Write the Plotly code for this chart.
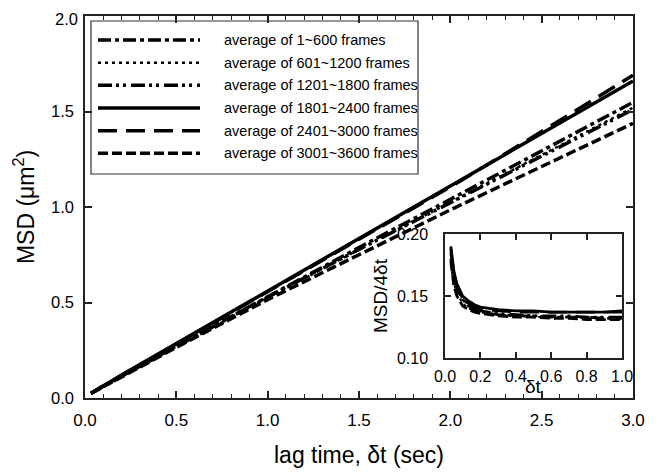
import plotly.graph_objects as go

# ---------------- data ----------------
series_names = [
    "average of 1~600 frames",
    "average of 601~1200 frames",
    "average of 1201~1800 frames",
    "average of 1801~2400 frames",
    "average of 2401~3000 frames",
    "average of 3001~3600 frames",
]

lag_time = [0.033, 0.1, 0.2, 0.5, 1.0, 1.5, 2.0, 2.5, 3.0]
msd_1_600 = [0.025, 0.062, 0.113, 0.272, 0.532, 0.788, 1.040, 1.292, 1.548]
msd_601_1200 = [0.024, 0.060, 0.111, 0.268, 0.525, 0.777, 1.024, 1.272, 1.520]
msd_1201_1800 = [0.025, 0.063, 0.114, 0.270, 0.528, 0.778, 1.022, 1.266, 1.510]
msd_1801_2400 = [0.025, 0.065, 0.120, 0.285, 0.560, 0.835, 1.110, 1.385, 1.660]
msd_2401_3000 = [0.025, 0.064, 0.118, 0.283, 0.557, 0.830, 1.105, 1.395, 1.690]
msd_3001_3600 = [0.024, 0.060, 0.110, 0.265, 0.515, 0.750, 0.985, 1.212, 1.438]

inset_dt = [0.033, 0.05, 0.067, 0.1, 0.133, 0.167, 0.2, 0.3, 0.4, 0.5, 0.6, 0.7, 0.8, 0.9, 1.0]
ratio_1_600 = [0.180, 0.165, 0.156, 0.147, 0.142, 0.139, 0.137, 0.135, 0.134, 0.134, 0.133, 0.133, 0.133, 0.132, 0.132]
ratio_601_1200 = [0.175, 0.160, 0.152, 0.144, 0.140, 0.138, 0.137, 0.135, 0.134, 0.133, 0.133, 0.133, 0.132, 0.132, 0.132]
ratio_1201_1800 = [0.185, 0.168, 0.158, 0.148, 0.143, 0.140, 0.138, 0.136, 0.135, 0.134, 0.134, 0.134, 0.133, 0.133, 0.133]
ratio_1801_2400 = [0.190, 0.170, 0.160, 0.150, 0.146, 0.143, 0.141, 0.139, 0.138, 0.138, 0.137, 0.137, 0.137, 0.137, 0.137]
ratio_2401_3000 = [0.188, 0.168, 0.158, 0.148, 0.144, 0.141, 0.139, 0.138, 0.137, 0.137, 0.137, 0.137, 0.137, 0.137, 0.138]
ratio_3001_3600 = [0.178, 0.158, 0.150, 0.142, 0.139, 0.137, 0.136, 0.134, 0.133, 0.133, 0.132, 0.132, 0.131, 0.131, 0.131]

main_series = [msd_1_600, msd_601_1200, msd_1201_1800, msd_1801_2400, msd_2401_3000, msd_3001_3600]
inset_series = [ratio_1_600, ratio_601_1200, ratio_1201_1800, ratio_1801_2400, ratio_2401_3000, ratio_3001_3600]

x_ticks = [0.0, 0.5, 1.0, 1.5, 2.0, 2.5, 3.0]
y_ticks = [0.0, 0.5, 1.0, 1.5, 2.0]
inset_x_ticks = [0.0, 0.2, 0.4, 0.6, 0.8, 1.0]
inset_y_ticks = [0.10, 0.15, 0.20]

# ---------------- styles ----------------
dashes = ["13px,4px,4px,4px", "3px,4px", "14px,4px,3px,4px,3px,5px", "solid", "19px,9px", "10px,4px"]
widths = [3.5, 2.5, 3.5, 3.5, 3.5, 3.5]
FONT = "Arial, Liberation Sans, sans-serif"
INK = "#000000"

fig = go.Figure()
for name, ys, d, w in zip(series_names, main_series, dashes, widths):
    fig.add_trace(go.Scatter(x=lag_time, y=ys, mode="lines", name=name, showlegend=False,
                             line=dict(color=INK, width=w, dash=d), xaxis="x", yaxis="y"))
for name, ys, d, w in zip(series_names, inset_series, dashes, widths):
    fig.add_trace(go.Scatter(x=inset_dt, y=ys, mode="lines", name=name, showlegend=False,
                             line=dict(color=INK, width=w * 0.8, dash=d), xaxis="x2", yaxis="y2"))

# ---------------- geometry ----------------
# page has an 8px body margin, so figure pixel = screen pixel - 8
OFF = 8
W, H = 659 - OFF, 475 - OFF
SX0, SX1, SY0, SY1 = 85, 633, 16, 398   # plot area in screen pixels
L, R, T, B = SX0 - OFF, W - (SX1 - OFF), SY0 - OFF, H - (SY1 - OFF)
pw, ph = SX1 - SX0, SY1 - SY0

def px(x):
    return (x - SX0) / pw

def py(y):
    return (SY1 - y) / ph

# manual legend
shapes = [dict(type="rect", xref="paper", yref="paper", x0=px(91), x1=px(418), y0=py(174), y1=py(21),
               line=dict(color="#333333", width=1.2), fillcolor="white", layer="below")]
annotations = []
row_y = [40, 62.7, 85.3, 108, 130.7, 153.3]
for name, d, w, ry in zip(series_names, dashes, widths, row_y):
    shapes.append(dict(type="line", xref="paper", yref="paper", x0=px(98), x1=px(200), y0=py(ry), y1=py(ry),
                       line=dict(color=INK, width=w, dash=d)))
    annotations.append(dict(xref="paper", yref="paper", x=px(222), y=py(ry), text=name, showarrow=False,
                            xanchor="left", yanchor="middle", font=dict(family=FONT, size=14.5, color=INK)))

# top y tick label drawn as annotation so it is nudged inside the page edge
YTICK_FONT = dict(family=FONT, size=16.5, color=INK)
annotations.append(dict(xref="paper", yref="y", x=0, y=y_ticks[-1], text=f"{y_ticks[-1]:.1f}",
                        showarrow=False, xanchor="right", yanchor="middle", xshift=-5, yshift=-3,
                        font=YTICK_FONT))

# inset
ix0, ix1, iy0, iy1 = 445, 622, 358, 234
annotations.append(dict(xref="paper", yref="paper", x=px((ix0 + ix1) / 2), y=py(386), text="δt",
                        showarrow=False, xanchor="center", yanchor="middle",
                        font=dict(family=FONT, size=19, color=INK)))

axis_common = dict(showline=True, linecolor="#222222", linewidth=1.5, mirror="allticks",
                   ticks="inside", tickcolor="#222222", tickwidth=1.5, showgrid=False, zeroline=False,
                   ticklabeloverflow="allow",
                   tickfont=dict(family=FONT, size=17, color=INK))
inset_font = dict(family=FONT, size=16, color=INK)

fig.update_layout(
    width=W, height=H,
    margin=dict(l=L, r=R, t=T, b=B, autoexpand=False),
    paper_bgcolor="white", plot_bgcolor="white",
    showlegend=False,
    shapes=shapes, annotations=annotations,
    xaxis=dict(**axis_common, range=[0, 3], tickvals=x_ticks, tickformat=".1f", ticklen=7,
               ticklabelstandoff=6,
               minor=dict(ticks="inside", dtick=0.1, ticklen=4, tickcolor="#222222", tickwidth=1.2),
               title=dict(text="lag time, δt (sec)", font=dict(family=FONT, size=23, color=INK), standoff=18),
               domain=[0, 1]),
    yaxis=dict(**{**axis_common, "tickfont": YTICK_FONT},
               range=[0, 2], tickvals=y_ticks, ticktext=[f"{v:.1f}" for v in y_ticks[:-1]] + [""],
               ticklen=7, ticklabelstandoff=6,
               title=dict(text="MSD (μm<sup>2</sup>)", font=dict(family=FONT, size=23, color=INK), standoff=10),
               domain=[0, 1]),
    xaxis2=dict(**{**axis_common, "tickfont": inset_font}, anchor="y2",
                range=[0, 1], tickvals=inset_x_ticks, tickformat=".1f", ticklen=6,
                ticklabelstandoff=3,
                domain=[px(ix0), px(ix1)]),
    yaxis2=dict(**{**axis_common, "tickfont": inset_font}, anchor="x2",
                range=[0.10, 0.20], tickvals=inset_y_ticks, tickformat=".2f", ticklen=6,
                ticklabelstandoff=12,
                title=dict(text="MSD/4δt", font=dict(family=FONT, size=19, color=INK), standoff=4),
                domain=[py(iy0), py(iy1)]),
)

fig.write_html("out.html")
